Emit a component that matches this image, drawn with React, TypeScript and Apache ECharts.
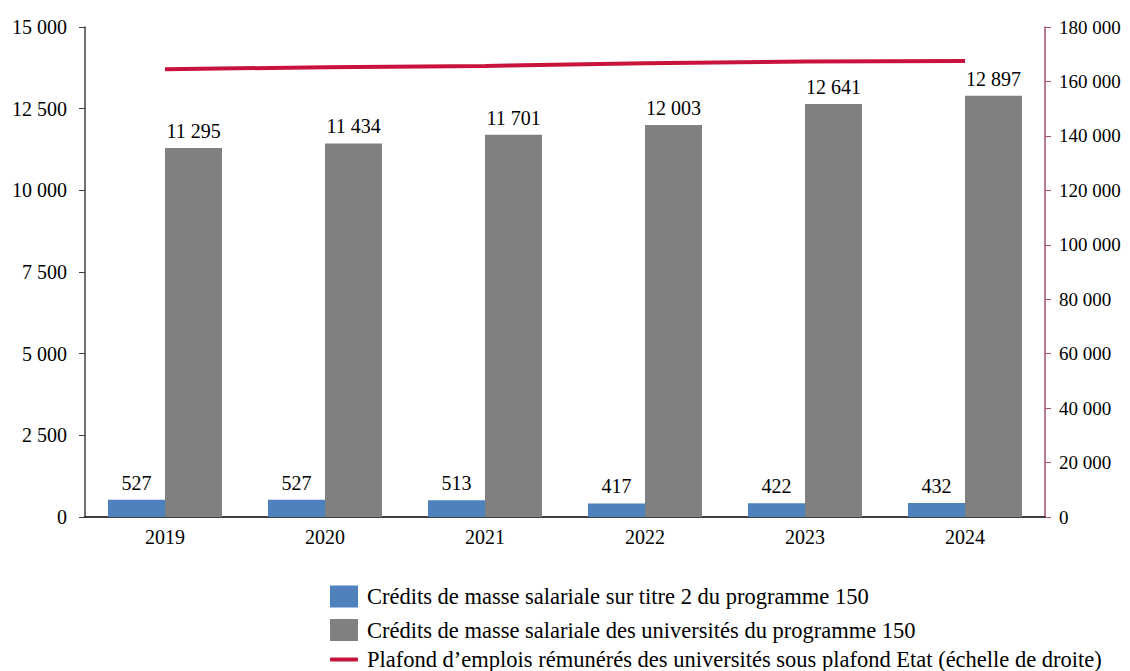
import React, { useEffect, useRef } from "react";
import * as echarts from "echarts";

const years = ["2019", "2020", "2021", "2022", "2023", "2024"];
const titre2 = [527, 527, 513, 417, 422, 432];
const universites = [11295, 11434, 11701, 12003, 12641, 12897];
const plafond = [164500, 165200, 165700, 166700, 167300, 167500];
const seriesNames = [
  "Crédits de masse salariale sur titre 2 du programme 150",
  "Crédits de masse salariale des universités du programme 150",
  "Plafond d\u2019emplois rémunérés des universités sous plafond Etat (échelle de droite)",
];

const fmt = (v: number) => {
  const s = String(Math.round(v));
  return s.replace(/\B(?=(\d{3})+(?!\d))/g, " ");
};

const FONT = "'Liberation Serif', 'DejaVu Serif', serif";
const legendText = { fontFamily: FONT, fontSize: 22.5, color: "#000", padding: [0, 0, 0, 4], lineHeight: 22 };

export default function App() {
  const ref = useRef<HTMLDivElement>(null);
  useEffect(() => {
    if (!ref.current) return;
    const chart = echarts.init(ref.current, undefined, { renderer: "svg" });
    chart.setOption({
      animation: false,
      textStyle: { fontFamily: FONT },
      grid: { left: 85, right: 85, top: 27, bottom: 154 },
      legend: [
        {
          left: 330,
          top: 585,
          padding: 0,
          itemWidth: 28,
          itemHeight: 22,
          textStyle: legendText,
          data: [{ name: seriesNames[0], icon: "rect" }],
        },
        {
          left: 330,
          top: 618.5,
          padding: 0,
          itemWidth: 28,
          itemHeight: 22,
          textStyle: legendText,
          data: [{ name: seriesNames[1], icon: "rect" }],
        },
        {
          left: 330,
          top: 648,
          padding: 0,
          itemWidth: 28,
          itemHeight: 4,
          textStyle: legendText,
          data: [{ name: seriesNames[2], icon: "roundRect" }],
        },
      ],
      xAxis: {
        type: "category",
        data: years,
        axisLine: { lineStyle: { color: "#000", width: 1.5 } },
        axisTick: { show: false },
        axisLabel: { fontFamily: FONT, fontSize: 20, color: "#000", margin: 10 },
      },
      yAxis: [
        {
          type: "value",
          min: 0,
          max: 15000,
          interval: 2500,
          splitLine: { show: false },
          axisLine: { show: true, lineStyle: { color: "#404040", width: 1.5 } },
          axisTick: { show: true, length: 6, lineStyle: { color: "#404040" } },
          axisLabel: { fontFamily: FONT, fontSize: 20, color: "#000", margin: 18, formatter: fmt },
        },
        {
          type: "value",
          min: 0,
          max: 180000,
          interval: 20000,
          splitLine: { show: false },
          axisLine: { show: true, lineStyle: { color: "#a8506a", width: 1.5 } },
          axisTick: { show: true, length: 6, lineStyle: { color: "#a8506a" } },
          axisLabel: { fontFamily: FONT, fontSize: 19, color: "#000", margin: 14, formatter: fmt },
        },
      ],
      series: [
        {
          name: seriesNames[0],
          type: "bar",
          data: titre2,
          barGap: "0%",
          barCategoryGap: "28.75%",
          itemStyle: { color: "#4f81bd" },
          label: { show: true, position: "top", distance: 7, fontFamily: FONT, fontSize: 20, color: "#000", formatter: (p: any) => fmt(p.value) },
        },
        {
          name: seriesNames[1],
          type: "bar",
          data: universites,
          barGap: "0%",
          barCategoryGap: "28.75%",
          itemStyle: { color: "#808080" },
          label: { show: true, position: "top", distance: 7, fontFamily: FONT, fontSize: 20, color: "#000", formatter: (p: any) => fmt(p.value) },
        },
        {
          name: seriesNames[2],
          type: "line",
          yAxisIndex: 1,
          data: plafond,
          symbol: "none",
          lineStyle: { color: "#c8143c", width: 4 },
          itemStyle: { color: "#c8143c" },
        },
      ],
    });
    return () => chart.dispose();
  }, []);
  return <div ref={ref} style={{ width: 1130, height: 671, marginLeft: -8, marginTop: -8 }} />;
}
